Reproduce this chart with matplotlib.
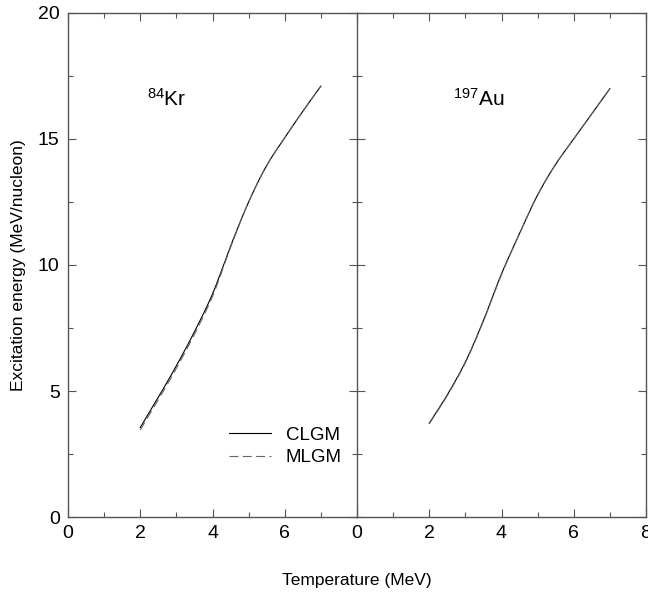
import numpy as np
import matplotlib
matplotlib.use('Agg')
import matplotlib.pyplot as plt
from matplotlib.ticker import MultipleLocator

plt.rcParams['font.family'] = ['Liberation Sans', 'DejaVu Sans']
plt.rcParams['mathtext.fontset'] = 'custom'
plt.rcParams['mathtext.rm'] = 'Liberation Sans'
plt.rcParams['mathtext.default'] = 'regular'

# Temperature grid (MeV)
temp = [2.0, 2.5, 3.0, 3.5, 4.0, 4.5, 5.0, 5.5, 6.0, 6.5, 7.0]

# 84Kr excitation energy (MeV/nucleon)
kr_clgm = [3.55, 4.75, 6.0, 7.35, 8.85, 10.75, 12.5, 13.95, 15.05, 16.1, 17.1]
kr_mlgm = [3.45, 4.65, 5.9, 7.25, 8.75, 10.7, 12.5, 13.95, 15.05, 16.1, 17.1]

# 197Au excitation energy (MeV/nucleon)
au_clgm = [3.72, 4.85, 6.15, 7.8, 9.65, 11.25, 12.78, 14.0, 15.0, 16.0, 17.0]
au_mlgm = [3.70, 4.82, 6.12, 7.77, 9.62, 11.25, 12.78, 14.0, 15.0, 16.0, 17.0]

spine_col = '#555555'


def pchip(x, y, n=300):
    # monotone cubic through the read points
    x = np.asarray(x, float)
    y = np.asarray(y, float)
    h = np.diff(x)
    d = np.diff(y) / h
    m = np.zeros_like(y)
    m[0], m[-1] = d[0], d[-1]
    for i in range(1, len(x) - 1):
        if d[i - 1] * d[i] > 0:
            w1 = 2 * h[i] + h[i - 1]
            w2 = h[i] + 2 * h[i - 1]
            m[i] = (w1 + w2) / (w1 / d[i - 1] + w2 / d[i])
    xs = np.linspace(x[0], x[-1], n)
    k = np.clip(np.searchsorted(x, xs) - 1, 0, len(x) - 2)
    t = (xs - x[k]) / h[k]
    h00 = 2 * t**3 - 3 * t**2 + 1
    h10 = t**3 - 2 * t**2 + t
    h01 = -2 * t**3 + 3 * t**2
    h11 = t**3 - t**2
    ys = h00 * y[k] + h10 * h[k] * m[k] + h01 * y[k + 1] + h11 * h[k] * m[k + 1]
    return xs, ys


fig = plt.figure(figsize=(6.48, 6.07), dpi=100)
ax1 = fig.add_axes([68 / 648, 1 - 517 / 607, 289 / 648, 504 / 607])
ax2 = fig.add_axes([357 / 648, 1 - 517 / 607, 289 / 648, 504 / 607])

for ax, c, m in [(ax1, kr_clgm, kr_mlgm), (ax2, au_clgm, au_mlgm)]:
    xs, ys = pchip(temp, c)
    ax.plot(xs, ys, color='black', lw=0.8, label='CLGM')
    xs, ys = pchip(temp, m)
    ax.plot(xs, ys, color='#666666', lw=0.8, ls=(0, (8, 4)), label='MLGM')
    ax.set_xlim(0, 8)
    ax.set_ylim(0, 20)
    ax.xaxis.set_major_locator(MultipleLocator(2))
    ax.xaxis.set_minor_locator(MultipleLocator(1))
    ax.yaxis.set_major_locator(MultipleLocator(5))
    ax.yaxis.set_minor_locator(MultipleLocator(2.5))
    ax.tick_params(which='both', direction='in', top=True, right=True,
                   color=spine_col, labelsize=14, width=0.8)
    ax.tick_params(which='major', length=6, pad=6)
    ax.tick_params(which='minor', length=3.5)
    for s in ax.spines.values():
        s.set_color(spine_col)
        s.set_linewidth(1.0)

ax1.set_xticks([0, 2, 4, 6])
ax1.set_xticks([1, 3, 5, 7], minor=True)
ax1.spines['right'].set_visible(False)
ax2.tick_params(labelleft=False)

ax1.text(2.2, 16.3, r'$^{84}$Kr', fontsize=15)
ax2.text(2.66, 16.3, r'$^{197}$Au', fontsize=15)

ax1.legend(loc='center left', bbox_to_anchor=(0.50, 0.14), frameon=False,
           fontsize=13.5, handlelength=2.2, handletextpad=0.8,
           labelspacing=0.3)

fig.text(0.028, 1 - 265 / 607, 'Excitation energy (MeV/nucleon)',
         rotation=90, ha='center', va='center', fontsize=12.5)
fig.text(357 / 648, 1 - 580 / 607, 'Temperature (MeV)', ha='center',
         va='center', fontsize=12.5)

fig.savefig('out.png', dpi=100)
